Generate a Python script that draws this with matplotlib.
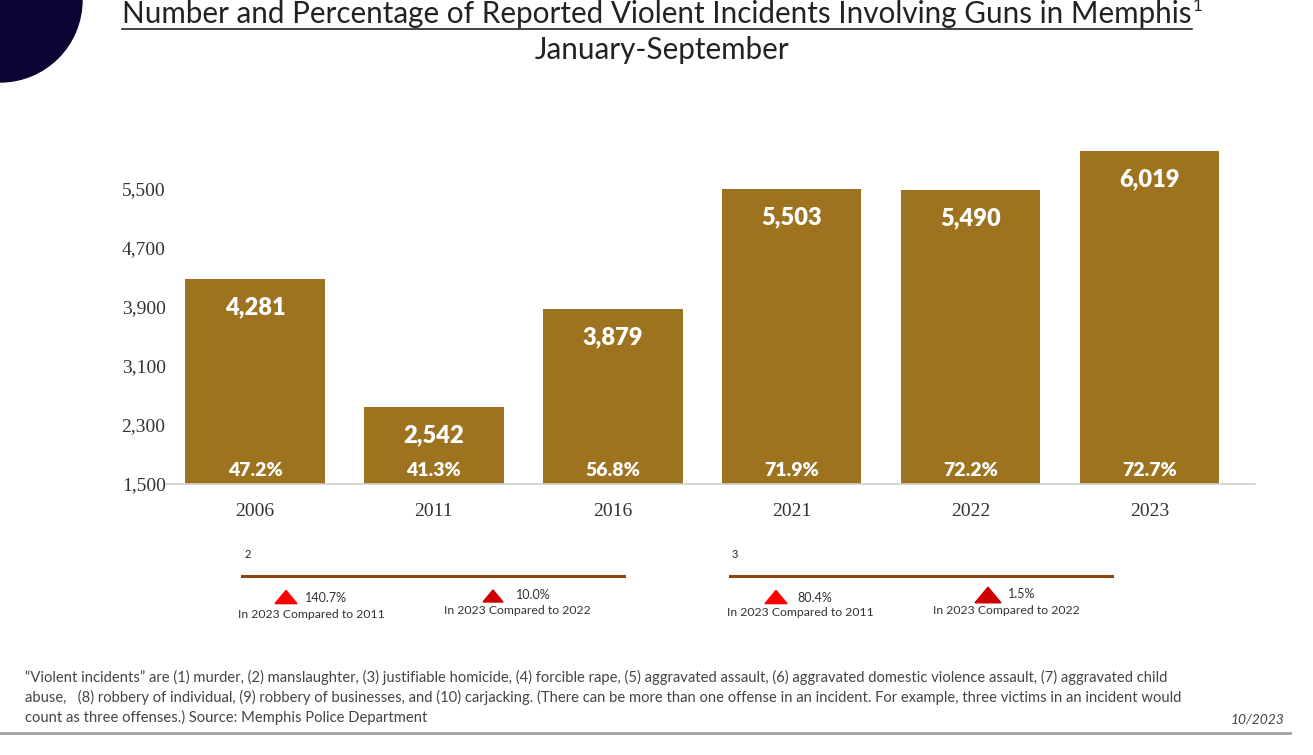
import numpy as np
import matplotlib.pyplot as plt
from matplotlib.patches import Polygon, Circle
from matplotlib.lines import Line2D

years = ['2006', '2011', '2016', '2021', '2022', '2023']
incidents = [4281, 2542, 3879, 5503, 5490, 6019]
pct_guns = ['47.2%', '41.3%', '56.8%', '71.9%', '72.2%', '72.7%']
yticks = [1500, 2300, 3100, 3900, 4700, 5500]

changes_2 = ['140.7%', '10.0%']
changes_3 = ['80.4%', '1.5%']
change_desc = ['In 2023 Compared to 2011', 'In 2023 Compared to 2022']

W, H = 1313, 755
bar_color = '#9E7320'
sans = 'Lato'
serif = 'Liberation Serif'


def fx(x):
    return x / W


def fy(y):
    return 1 - y / H


fig = plt.figure(figsize=(W / 100, H / 100), dpi=100)
fig.patch.set_facecolor('white')

# chart area
ax = fig.add_axes([fx(165.6), fy(484), fx(1255 - 165.6), (484 - 140) / H])
x = np.arange(len(years))
ax.bar(x, incidents, width=0.78, color=bar_color, zorder=2)
ax.set_xlim(-0.5, 5.59)
ax.set_ylim(1500, 6164)
ax.set_yticks(yticks)
ax.set_yticklabels([f'{v:,}' for v in yticks], fontfamily=serif, fontsize=14, color='#333333')
ax.set_xticks(x)
ax.set_xticklabels(years, fontfamily=serif, fontsize=14, color='#333333')
ax.tick_params(axis='y', length=0, pad=0)
ax.tick_params(axis='x', length=0, pad=14)
for s in ['top', 'right', 'left']:
    ax.spines[s].set_visible(False)
ax.spines['bottom'].set_color('#d0d0d0')
ax.spines['bottom'].set_linewidth(1.2)

for i, v in enumerate(incidents):
    ax.annotate(f'{v:,}', (i, v), xytext=(0, -20.5), textcoords='offset points',
                ha='center', va='center', color='white', fontsize=17,
                fontweight='heavy', fontfamily=sans)
    ax.annotate(pct_guns[i], (i, 1500), xytext=(0, 9.5), textcoords='offset points',
                ha='center', va='center', color='white', fontsize=14,
                fontweight='heavy', fontfamily=sans)

# decorative circle top-left
circ = Circle((0, H / 100), 0.82, transform=fig.dpi_scale_trans, color='#0c0533')
fig.add_artist(circ)

# title
t = fig.text(fx(657), fy(14), 'Number and Percentage of Reported Violent Incidents Involving Guns in Memphis',
             ha='center', va='center', fontsize=21.3, fontfamily=sans, color='#222222')
fig.text(fx(662), fy(50), 'January-September', ha='center', va='center',
         fontsize=21.3, fontfamily=sans, color='#222222')
fig.canvas.draw()
bb = t.get_window_extent()
fig.add_artist(Line2D([bb.x0 / W, bb.x1 / W], [fy(29), fy(29)], color='#222222', lw=1.2))
fig.text(bb.x1 / W + 0.001, fy(6), '1', ha='left', va='center', fontsize=12,
         fontfamily=sans, color='#222222')

# comparison boxes
groups = [
    (242, 624, 245, '2', changes_2, [(286, 597, 22, '#ff0000'), (493, 596, 20, '#cc0000')],
     [(305, 598), (516, 595)], [(311, 614), (517, 611)]),
    (730, 1112, 732, '3', changes_3, [(776, 597, 22, '#ff0000'), (988, 595, 26, '#cc0000')],
     [(797, 598), (1008, 594)], [(800, 613), (1006, 610)]),
]
for x0, x1, nx, num, vals, tris, vpos, dpos in groups:
    fig.text(fx(nx), fy(555), num, ha='left', va='center', fontsize=8, fontfamily=sans, color='#222222')
    fig.add_artist(Line2D([fx(x0), fx(x1)], [fy(576), fy(576)], color='#8B4513', lw=2.2))
    for (cx, cy, w, c), v, (vx, vy), (dx, dy), d in zip(tris, vals, vpos, dpos, change_desc):
        h = w * 0.6
        fig.add_artist(Polygon([[fx(cx - w / 2), fy(cy + h / 2)], [fx(cx + w / 2), fy(cy + h / 2)],
                                [fx(cx), fy(cy - h / 2)]], closed=True, color=c,
                               transform=fig.transFigure))
        fig.text(fx(vx), fy(vy), v, ha='left', va='center', fontsize=9, fontfamily=sans, color='#333333')
        fig.text(fx(dx), fy(dy), d, ha='center', va='center', fontsize=8.8, fontfamily=sans, color='#333333')

# footnote
note = ('\u201cViolent incidents\u201d are (1) murder, (2) manslaughter, (3) justifiable homicide, (4) forcible rape, '
        '(5) aggravated assault, (6) aggravated domestic violence assault, (7) aggravated child\n'
        'abuse,   (8) robbery of individual, (9) robbery of businesses, and (10) carjacking. (There can be more than '
        'one offense in an incident. For example, three victims in an incident would\n'
        'count as three offenses.) Source: Memphis Police Department')
fig.text(fx(25), fy(670), note, ha='left', va='top', fontsize=10.6, fontfamily=sans,
         color='#444444', linespacing=1.4)
fig.text(fx(1284), fy(720), '10/2023', ha='right', va='center', fontsize=10,
         fontfamily=sans, style='italic', color='#444444')
fig.add_artist(Line2D([0, fx(1290)], [fy(733), fy(733)], color='#a0a0a0', lw=2))

fig.savefig('out.png', dpi=100)
